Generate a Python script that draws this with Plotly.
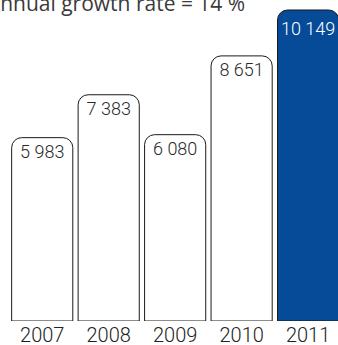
import plotly.graph_objects as go

years = ["2007", "2008", "2009", "2010", "2011"]
values = [5983, 7383, 6080, 8651, 10149]
labels = ["5 983", "7 383", "6 080", "8 651", "10 149"]
title_text = "Average annual growth rate = 14 %"

W, H = 338, 345
fill_colors = ["white"] * 4 + ["#064b98"]
text_colors = ["#2a2a2a"] * 4 + ["white"]
num_font = "Roboto, sans-serif"

fig = go.Figure(go.Bar(
    x=years, y=values, text=labels,
    textposition="inside", insidetextanchor="end",
    textfont=dict(family=num_font, size=18, color=text_colors, weight=300),
    textangle=0,
    marker=dict(color=fill_colors, line=dict(color="#1a1a1a", width=1),
                cornerradius=10),
    cliponaxis=True,
))

fig.update_layout(
    width=W, height=H,
    margin=dict(l=0, r=0, t=0, b=0),
    paper_bgcolor="white", plot_bgcolor="white",
    bargap=0.08,
    showlegend=False,
    xaxis=dict(domain=[9 / W, 1], range=[-0.5, 4.45], showgrid=False,
               zeroline=False, showline=False, ticks="", automargin=False,
               tickfont=dict(family=num_font, size=20, color="#222222", weight=300)),
    yaxis=dict(domain=[24 / H, 1], range=[0, 10475], visible=False,
               showgrid=False, zeroline=False, automargin=False),
    annotations=[dict(
        text=title_text, xref="paper", yref="paper",
        x=247 / W, y=1 - 3.5 / H, xanchor="right", yanchor="middle",
        showarrow=False,
        font=dict(family="Open Sans, sans-serif", size=21, color="#3a3a3a"),
    )],
)

fig.write_html("out.html")
